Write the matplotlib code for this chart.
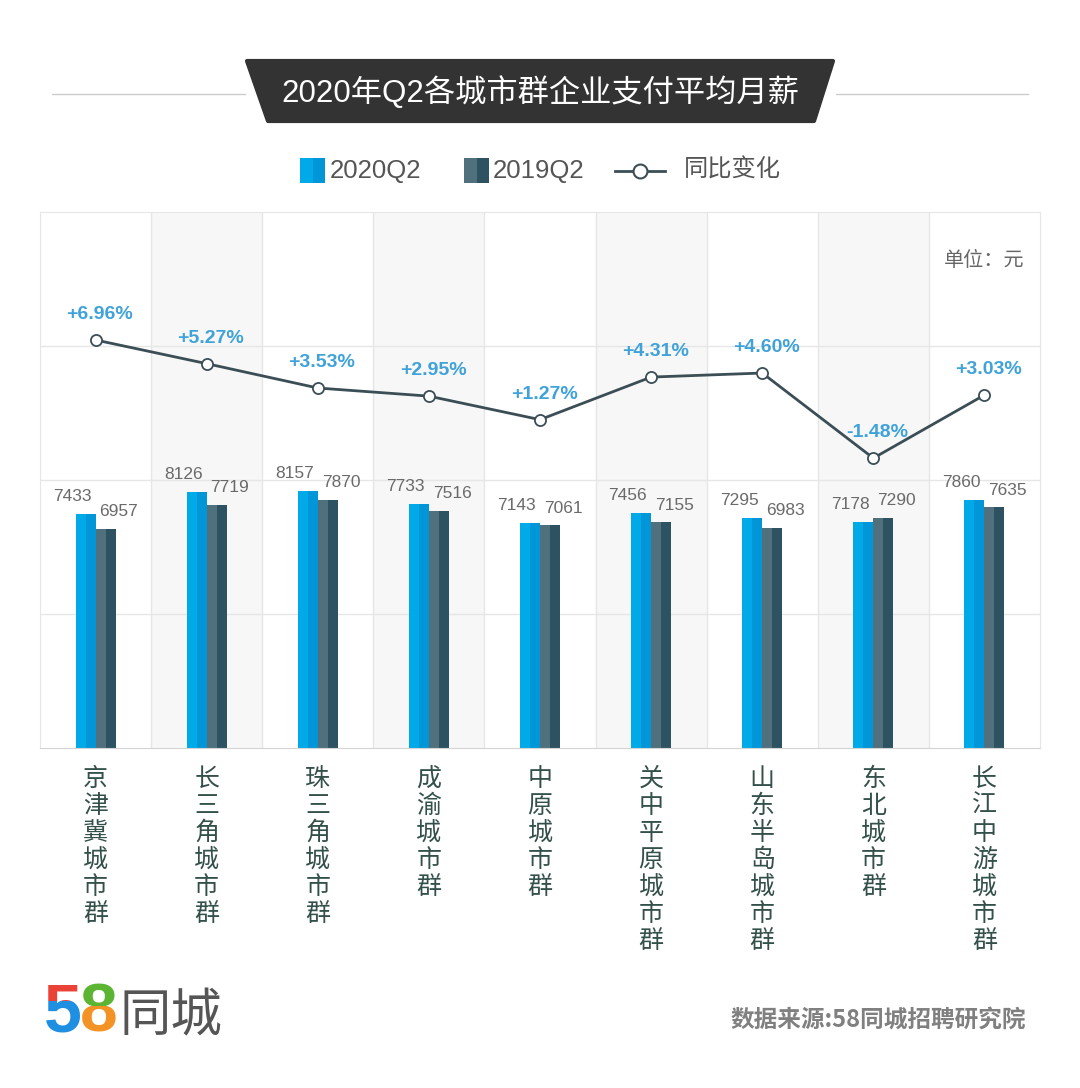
import matplotlib
matplotlib.use('Agg')
from matplotlib import pyplot as plt
from matplotlib.patches import Polygon, Rectangle
from matplotlib.lines import Line2D
import numpy as np

plt.rcParams['font.family'] = ['Noto Sans CJK SC', 'DejaVu Sans']

# data
cities = ['京津冀城市群', '长三角城市群', '珠三角城市群', '成渝城市群', '中原城市群',
          '关中平原城市群', '山东半岛城市群', '东北城市群', '长江中游城市群']
q2_2020 = [7433, 8126, 8157, 7733, 7143, 7456, 7295, 7178, 7860]
q2_2019 = [6957, 7719, 7870, 7516, 7061, 7155, 6983, 7290, 7635]
yoy = [6.96, 5.27, 3.53, 2.95, 1.27, 4.31, 4.60, -1.48, 3.03]

blue_a, blue_b = '#00a9e8', '#0096d8'
dark_a, dark_b = '#4f707c', '#2d5362'
line_c = '#3b4e56'
pct_c = '#3fa2d9'
W, H = 1080, 1088

fig = plt.figure(figsize=(W / 100, H / 100), dpi=100)
fig.patch.set_facecolor('white')

ax = fig.add_axes([40 / W, 1 - 748 / H, 1000 / W, 536 / H])
x = np.arange(len(cities))
bw = 0.09  # half of one bar

# alternate shaded columns
for i in x:
    if i % 2 == 1:
        ax.axvspan(i - 0.5, i + 0.5, color='#f7f7f7', zorder=0, lw=0)
for b in np.arange(0.5, len(cities) - 0.5, 1):
    ax.axvline(b, color='#e6e6e6', lw=1, zorder=0.5)
for g in [4250, 8500, 12750]:
    ax.axhline(g, color='#e6e6e6', lw=1, zorder=0.5)

# two-tone bars, each drawn as two halves
ax.bar(x - 2 * bw, q2_2020, width=bw, align='edge', color=blue_a, zorder=2)
ax.bar(x - bw, q2_2020, width=bw, align='edge', color=blue_b, zorder=2)
ax.bar(x, q2_2019, width=bw, align='edge', color=dark_a, zorder=2)
ax.bar(x + bw, q2_2019, width=bw, align='edge', color=dark_b, zorder=2)

num_font = ['Liberation Sans Narrow', 'Liberation Sans', 'DejaVu Sans']
for i in x:
    ax.annotate(str(q2_2020[i]), (i - bw, q2_2020[i]), xytext=(-9.5, 7),
                textcoords='offset points', ha='center', va='bottom',
                fontsize=12.5, color='#6a6a6a', family=num_font, zorder=3)
    ax.annotate(str(q2_2019[i]), (i + bw, q2_2019[i]), xytext=(9.5, 7),
                textcoords='offset points', ha='center', va='bottom',
                fontsize=12.5, color='#6a6a6a', family=num_font, zorder=3)

ax.set_xlim(-0.5, len(cities) - 0.5)
ax.set_ylim(0, 17000)
ax.set_yticks([])
ax.set_xticks(x)
ax.set_xticklabels(['\n'.join(c) for c in cities], fontsize=18, color='#34504b',
                   linespacing=1.05, va='top')
ax.tick_params(axis='x', length=0, pad=13)
for s in ['left', 'right', 'top']:
    ax.spines[s].set_color('#e6e6e6')
ax.spines['bottom'].set_color('#d4d4d4')

# year-on-year change on a second axis
ax2 = ax.twinx()
ax2.plot(x, yoy, color=line_c, lw=2, marker='o', ms=8, mfc='white', mec=line_c,
         mew=1.3, zorder=4)
for i in x:
    ax2.annotate(f'{yoy[i]:+.2f}%', (x[i], yoy[i]), xytext=(3, 12),
                 textcoords='offset points', ha='center', va='bottom',
                 fontsize=14, fontweight='bold', color=pct_c,
                 family=['Liberation Sans', 'DejaVu Sans'])
ax2.set_ylim(-22.18, 16.1)
ax2.set_yticks([])
for s in ax2.spines.values():
    s.set_visible(False)

# decorations in pixel coordinates
bg = fig.add_axes([0, 0, 1, 1])
bg.set_xlim(0, W)
bg.set_ylim(H, 0)
bg.axis('off')

bg.plot([52, 245], [94, 94], color='#cccccc', lw=1)
bg.plot([836, 1028], [94, 94], color='#cccccc', lw=1)
bg.add_patch(Polygon([(247, 61), (833, 61), (814, 121), (268, 121)], closed=True,
                     facecolor='#333333', edgecolor='#333333', lw=3, joinstyle='round'))
bg.text(540, 93, '2020年Q2各城市群企业支付平均月薪', ha='center', va='center',
        fontsize=22.5, color='white', family=['Liberation Sans', 'Noto Sans CJK SC'])

# legend
bg.add_patch(Rectangle((300, 158), 12.5, 25, color=blue_a, lw=0))
bg.add_patch(Rectangle((312.5, 158), 12.5, 25, color=blue_b, lw=0))
bg.text(330, 171, '2020Q2', va='center', fontsize=18.5, color='#555555',
        family=['Liberation Sans', 'DejaVu Sans'])
bg.add_patch(Rectangle((464, 158), 12.5, 25, color=dark_a, lw=0))
bg.add_patch(Rectangle((476.5, 158), 12.5, 25, color=dark_b, lw=0))
bg.text(493, 171, '2019Q2', va='center', fontsize=18.5, color='#555555',
        family=['Liberation Sans', 'DejaVu Sans'])
bg.add_line(Line2D([615, 665], [171, 171], color=line_c, lw=2))
bg.add_line(Line2D([640], [171], marker='o', ms=10, mfc='white', mec=line_c, mew=1.5))
bg.text(684, 170, '同比变化', va='center', fontsize=17.5, color='#555555')

bg.text(984, 260, '单位：元', ha='center', va='center', fontsize=14.5, color='#666666')

# logo
logo_font = ['Liberation Sans', 'DejaVu Sans']
for ch, x0, top_c, bot_c, split in [('5', 44, '#ea4236', '#1f8fe2', 1001),
                                    ('8', 80, '#5bb533', '#f39326', 1006)]:
    for c, y0, y1 in [(top_c, 960, split), (bot_c, split, 1050)]:
        t = bg.text(x0, 1032, ch, fontsize=49, fontweight='bold', color=c,
                    family=logo_font, clip_on=True)
        t.set_clip_path(Rectangle((0, y0), 300, y1 - y0, transform=bg.transData))
bg.text(120, 1031, '同城', fontsize=37, color='#555555', fontweight='medium')

bg.text(1026, 1020, '数据来源:58同城招聘研究院', ha='right', va='center', fontsize=17,
        fontweight='bold', color='#808080')

fig.savefig('out.png', dpi=100, facecolor='white')
